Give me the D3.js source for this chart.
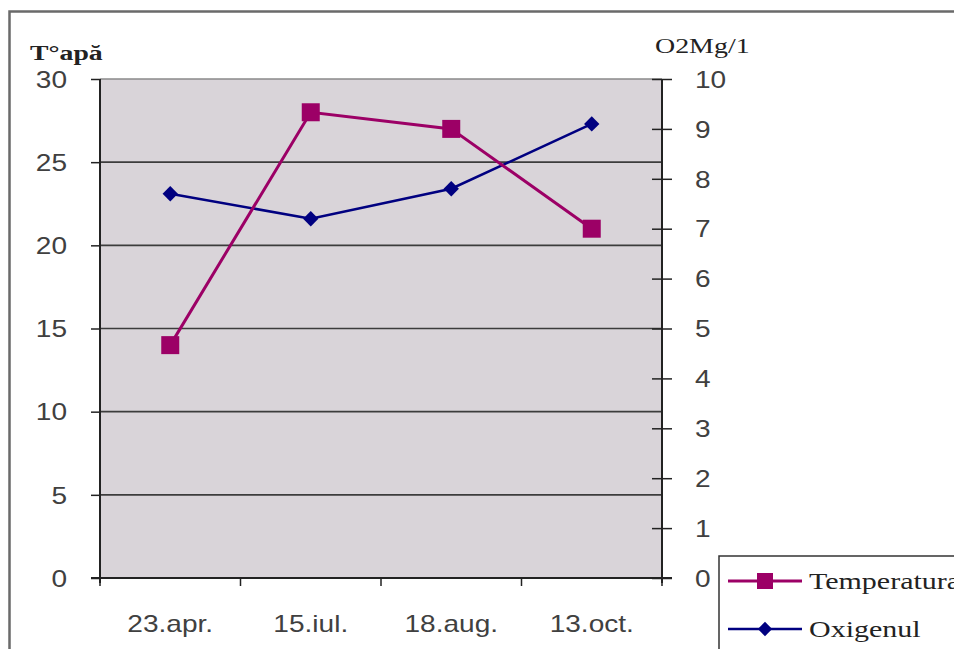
<!DOCTYPE html>
<html>
<head>
<meta charset="utf-8">
<script src="https://cdn.jsdelivr.net/npm/d3@7"></script>
<style>
  html, body { margin: 0; padding: 0; background: #fff; }
  svg { display: block; }
  .tick-lbl { font-family: "Liberation Sans", Arial, sans-serif; font-size: 23px; fill: #404040; }
  .serif { font-family: "Liberation Serif", "Times New Roman", serif; fill: #222; }
</style>
</head>
<body>
<svg id="chart" width="954" height="649"></svg>
<script>
// Sampling dates
const categories = ["23.apr.", "15.iul.", "18.aug.", "13.oct."];
// Water temperature, °C (left axis)
const temperatura = [14, 28, 27, 21];
// Dissolved oxygen, mg/l (right axis)
const oxigenul = [7.7, 7.2, 7.8, 9.1];
// Axis ticks
const leftTicks = [0, 5, 10, 15, 20, 25, 30];
const rightTicks = [0, 1, 2, 3, 4, 5, 6, 7, 8, 9, 10];

// All text in this chart uses a wide (horizontally stretched) face
const SX = 1.22;

const svg = d3.select("#chart");
const plot = { left: 100, right: 662, top: 79, bottom: 578 };

const x = d3.scaleBand().domain(categories).range([plot.left, plot.right]).padding(0);
const yL = d3.scaleLinear().domain([0, 30]).range([plot.bottom, plot.top]);
const yR = d3.scaleLinear().domain([0, 10]).range([plot.bottom, plot.top]);

// Place a horizontally stretched text at (px, py)
function wideText(parent, px, py, str, cls, opts = {}) {
  const t = parent.append("text")
    .attr("class", cls)
    .attr("transform", `translate(${px},${py}) scale(${opts.sx || SX},1)`)
    .attr("text-anchor", opts.anchor || "start")
    .text(str);
  if (opts.size) t.attr("font-size", opts.size);
  if (opts.weight) t.attr("font-weight", opts.weight);
  if (opts.dy) t.attr("dy", opts.dy);
  return t;
}

// Outer chart frame (open on the right and bottom)
svg.append("path")
  .attr("d", `M9.5,649 V11.5 H954`)
  .attr("fill", "none").attr("stroke", "#6a6a6a").attr("stroke-width", 2.5);

// Plot area background
svg.append("rect")
  .attr("x", plot.left).attr("y", plot.top)
  .attr("width", plot.right - plot.left).attr("height", plot.bottom - plot.top)
  .attr("fill", "#d9d4d9");

// Horizontal gridlines at left-axis ticks
svg.append("g").selectAll("line")
  .data(leftTicks.filter(d => d > 0))
  .join("line")
  .attr("x1", plot.left).attr("x2", plot.right)
  .attr("y1", d => yL(d)).attr("y2", d => yL(d))
  .attr("stroke", d => d === 30 ? "#8a8a8a" : "#3c3c3c").attr("stroke-width", 1.6);

// Left axis
const padL = 33;
const gL = svg.append("g").attr("transform", `translate(${plot.left},0)`)
  .call(d3.axisLeft(yL).tickValues(leftTicks).tickSize(9).tickPadding(padL));
gL.select(".domain").attr("stroke", "#222").attr("stroke-width", 2).attr("d", `M0,${plot.top}V${plot.bottom + 5}`);
gL.selectAll(".tick line").attr("stroke", "#222").attr("stroke-width", 1.5);
gL.selectAll(".tick text").attr("class", "tick-lbl")
  .attr("font-size", null).attr("font-family", null).attr("fill", null)
  .attr("dy", "0.36em")
  .attr("x", -padL / SX).attr("transform", `scale(${SX},1)`);

// Right axis (ticks cross the axis line)
const padR = 33;
const gR = svg.append("g").attr("transform", `translate(${plot.right},0)`)
  .call(d3.axisRight(yR).tickValues(rightTicks).tickSize(10).tickPadding(padR));
gR.select(".domain").attr("stroke", "#222").attr("stroke-width", 2).attr("d", `M0,${plot.top}V${plot.bottom + 5}`);
gR.selectAll(".tick line").attr("x1", -10).attr("stroke", "#222").attr("stroke-width", 1.5);
gR.selectAll(".tick text").attr("class", "tick-lbl")
  .attr("font-size", null).attr("font-family", null).attr("fill", null)
  .attr("dy", "0.36em")
  .attr("x", padR / SX).attr("transform", `scale(${SX},1)`);

// Bottom axis: ticks at category boundaries, labels centred in bands
const gB = svg.append("g").attr("transform", `translate(0,${plot.bottom})`);
gB.append("line").attr("x1", plot.left - 9).attr("x2", plot.right + 10)
  .attr("stroke", "#222").attr("stroke-width", 2);
const bounds = categories.map(c => x(c)).concat([x(categories[categories.length - 1]) + x.bandwidth()]);
gB.selectAll("line.bt").data(bounds).join("line").attr("class", "bt")
  .attr("x1", d => d).attr("x2", d => d).attr("y1", 0).attr("y2", 8)
  .attr("stroke", "#222").attr("stroke-width", 1.5);
categories.forEach(c => {
  wideText(gB, x(c) + x.bandwidth() / 2, 54, c, "tick-lbl", { anchor: "middle" });
});

// Axis titles
wideText(svg, 30, 60, "T°apă", "serif", { size: 21, weight: "bold", sx: 1.32 });
wideText(svg, 655, 53, "O2Mg/1", "serif", { size: 22, sx: 1.27 });

const cx = d => x(d) + x.bandwidth() / 2;
const magenta = "#9c0066", navy = "#000080";

// Oxygen series
svg.append("path").datum(oxigenul)
  .attr("fill", "none").attr("stroke", navy).attr("stroke-width", 2.6)
  .attr("d", d3.line().x((d, i) => cx(categories[i])).y(d => yR(d)));
svg.append("g").selectAll("path").data(oxigenul).join("path")
  .attr("transform", (d, i) => `translate(${cx(categories[i])},${yR(d)})`)
  .attr("d", d3.symbol(d3.symbolDiamond2, 150)())
  .attr("fill", navy);

// Temperature series
svg.append("path").datum(temperatura)
  .attr("fill", "none").attr("stroke", magenta).attr("stroke-width", 3)
  .attr("d", d3.line().x((d, i) => cx(categories[i])).y(d => yL(d)));
svg.append("g").selectAll("rect").data(temperatura).join("rect")
  .attr("x", (d, i) => cx(categories[i]) - 9).attr("y", d => yL(d) - 9)
  .attr("width", 18).attr("height", 18).attr("fill", magenta);

// Legend (the box runs past the right and bottom edges of the canvas)
const lg = svg.append("g");
lg.append("rect").attr("x", 719).attr("y", 556).attr("width", 250).attr("height", 110)
  .attr("fill", "#fff").attr("stroke", "#333").attr("stroke-width", 1.5);
const items = [
  { name: "Temperatura", color: magenta, shape: "square", y: 581 },
  { name: "Oxigenul", color: navy, shape: "diamond", y: 629 }
];
items.forEach(it => {
  lg.append("line").attr("x1", 728).attr("x2", 802).attr("y1", it.y).attr("y2", it.y)
    .attr("stroke", it.color).attr("stroke-width", it.shape === "square" ? 3 : 2.6);
  if (it.shape === "square") {
    lg.append("rect").attr("x", 757).attr("y", it.y - 8).attr("width", 16).attr("height", 16).attr("fill", it.color);
  } else {
    lg.append("path").attr("transform", `translate(765,${it.y})`)
      .attr("d", d3.symbol(d3.symbolDiamond2, 130)()).attr("fill", it.color);
  }
  wideText(lg, 809, it.y + 8, it.name, "serif", { size: 24, sx: 1.25 });
});
</script>
</body>
</html>
